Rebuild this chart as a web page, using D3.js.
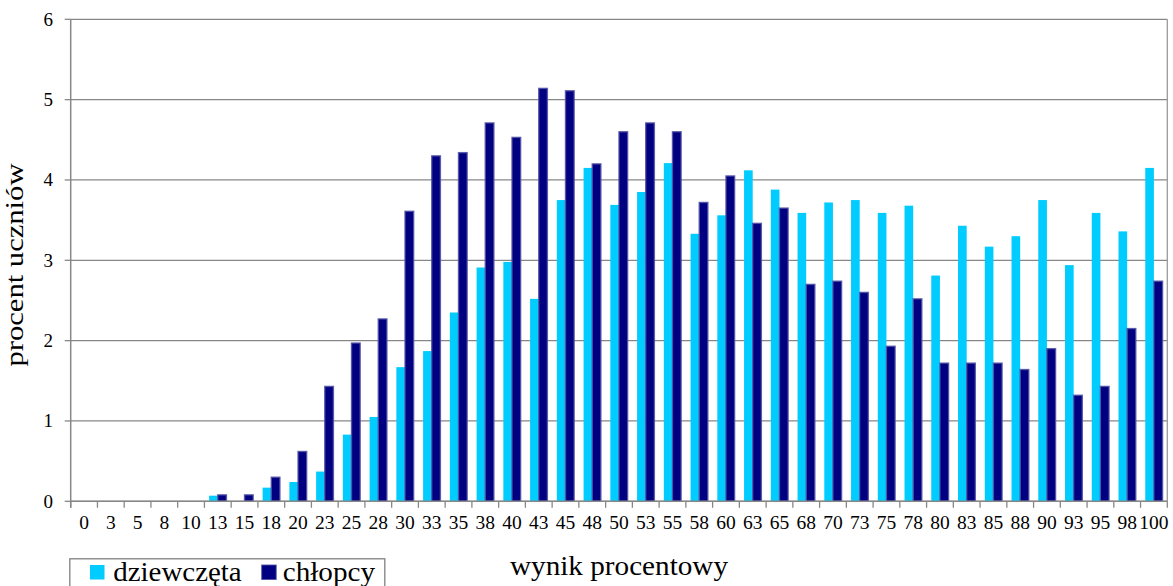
<!DOCTYPE html>
<html>
<head>
<meta charset="utf-8">
<script src="https://cdn.jsdelivr.net/npm/d3@7"></script>
<style>
  html, body { margin: 0; padding: 0; background: #fff; }
  svg { display: block; }
</style>
</head>
<body>
<svg id="chart" width="1173" height="586"></svg>
<script>
const categories = ["0","3","5","8","10","13","15","18","20","23","25","28","30","33","35","38","40","43","45","48","50","53","55","58","60","63","65","68","70","73","75","78","80","83","85","88","90","93","95","98","100"];
const seriesNames = ["dziewczęta", "chłopcy"];
const girls = [0,0,0,0,0,0.07,0,0.17,0.24,0.37,0.83,1.05,1.67,1.87,2.35,2.91,2.98,2.52,3.75,4.15,3.69,3.85,4.21,3.33,3.56,4.12,3.88,3.59,3.72,3.75,3.59,3.68,2.81,3.43,3.17,3.30,3.75,2.94,3.59,3.36,4.15];
const boys  = [0,0,0,0,0,0.08,0.08,0.30,0.62,1.43,1.97,2.27,3.61,4.30,4.34,4.71,4.53,5.14,5.11,4.20,4.60,4.71,4.60,3.72,4.05,3.46,3.65,2.70,2.74,2.60,1.93,2.52,1.72,1.72,1.72,1.64,1.90,1.32,1.43,2.15,2.74];
const yTicks = [0,1,2,3,4,5,6];
const colors = ["#00CCFF", "#000080"];
const FONT = "'Liberation Serif', 'Times New Roman', serif";

const svg = d3.select("#chart");
const pLeft = 70.7, pRight = 1167.3, pTop = 19.3, pBottom = 501.3;

const x = d3.scaleBand().domain(categories).range([pLeft, pRight]).paddingInner(0).paddingOuter(0);
const x1 = d3.scaleBand().domain(seriesNames).range([4.7, 22.0]);
const y = d3.scaleLinear().domain([0, 6]).range([pBottom, pTop]);

// gridlines
svg.append("g").selectAll("line").data(yTicks).join("line")
  .attr("x1", pLeft).attr("x2", pRight)
  .attr("y1", d => y(d)).attr("y2", d => y(d))
  .attr("stroke", "#878787").attr("stroke-width", 1.3);

// right border
svg.append("line").attr("x1", pRight).attr("x2", pRight).attr("y1", pTop).attr("y2", pBottom)
  .attr("stroke", "#9a9a9a").attr("stroke-width", 1.3);

// bars
const data = categories.map((c, i) => ({ c, vals: [girls[i], boys[i]] }));
const groups = svg.append("g").selectAll("g").data(data).join("g")
  .attr("transform", d => `translate(${x(d.c)},0)`);
groups.selectAll("rect").data(d => d.vals.map((v, k) => ({ v, k })).filter(e => e.v > 0)).join("rect")
  .attr("x", e => x1(seriesNames[e.k]))
  .attr("width", x1.bandwidth())
  .attr("y", e => y(e.v))
  .attr("height", e => pBottom - y(e.v))
  .attr("fill", e => colors[e.k])
  .attr("stroke", e => e.k === 1 ? "rgba(80,80,165,0.85)" : "none")
  .attr("stroke-width", e => e.k === 1 ? 1.4 : 0);

// x axis
const xAxis = svg.append("g").attr("transform", `translate(0,${pBottom})`);
xAxis.append("line").attr("x1", pLeft).attr("x2", pRight).attr("y1", 0).attr("y2", 0)
  .attr("stroke", "#878787").attr("stroke-width", 1.5);
const boundaries = categories.map(c => x(c)).concat([pRight]);
xAxis.selectAll("line.tick").data(boundaries).join("line").attr("class", "tick")
  .attr("x1", d => d).attr("x2", d => d).attr("y1", 0).attr("y2", 6.5)
  .attr("stroke", "#878787").attr("stroke-width", 1.3);
xAxis.selectAll("text").data(categories).join("text")
  .attr("x", d => x(d) + x.bandwidth() / 2)
  .attr("y", 28)
  .attr("text-anchor", "middle")
  .style("font-family", FONT).style("font-size", "19.5px").attr("fill", "#000")
  .text(d => d);

// y axis
const yAxis = svg.append("g");
yAxis.append("line").attr("x1", pLeft).attr("x2", pLeft).attr("y1", pTop).attr("y2", pBottom + 6.5)
  .attr("stroke", "#878787").attr("stroke-width", 1.5);
yAxis.selectAll("line.tick").data(yTicks).join("line").attr("class", "tick")
  .attr("x1", pLeft - 6).attr("x2", pLeft).attr("y1", d => y(d)).attr("y2", d => y(d))
  .attr("stroke", "#878787").attr("stroke-width", 1.3);
yAxis.selectAll("text").data(yTicks).join("text")
  .attr("x", 53).attr("y", d => y(d)).attr("dy", "0.34em")
  .attr("text-anchor", "end")
  .style("font-family", FONT).style("font-size", "19px").attr("fill", "#000")
  .text(d => d);

// axis titles
svg.append("text").attr("x", 619).attr("y", 574.5).attr("text-anchor", "middle")
  .style("font-family", FONT).style("font-size", "28px").attr("fill", "#000")
  .attr("textLength", 218).attr("lengthAdjust", "spacingAndGlyphs")
  .text("wynik procentowy");
svg.append("text").attr("transform", "translate(22.5,265) rotate(-90)").attr("text-anchor", "middle")
  .style("font-family", FONT).style("font-size", "25px").attr("fill", "#000")
  .attr("textLength", 203).attr("lengthAdjust", "spacingAndGlyphs")
  .text("procent uczniów");

// legend
const lg = svg.append("g");
lg.append("rect").attr("x", 69.8).attr("y", 558.8).attr("width", 315).attr("height", 40)
  .attr("fill", "#fff").attr("stroke", "#808080").attr("stroke-width", 1.3);
const legendItems = [
  { name: seriesNames[0], color: colors[0], sx: 90, tx: 113.3, tw: 128.4 },
  { name: seriesNames[1], color: colors[1], sx: 261.7, tx: 282.7, tw: 92.3 }
];
legendItems.forEach((it, k) => {
  lg.append("rect").attr("x", it.sx).attr("y", 565).attr("width", 14.5).attr("height", 14.5)
    .attr("fill", it.color).attr("stroke", k === 1 ? "rgba(80,80,165,0.85)" : "none");
  lg.append("text").attr("x", it.tx).attr("y", 580.5)
    .style("font-family", FONT).style("font-size", "27px").attr("fill", "#000")
    .attr("textLength", it.tw).attr("lengthAdjust", "spacingAndGlyphs").text(it.name);
});
</script>
</body>
</html>
